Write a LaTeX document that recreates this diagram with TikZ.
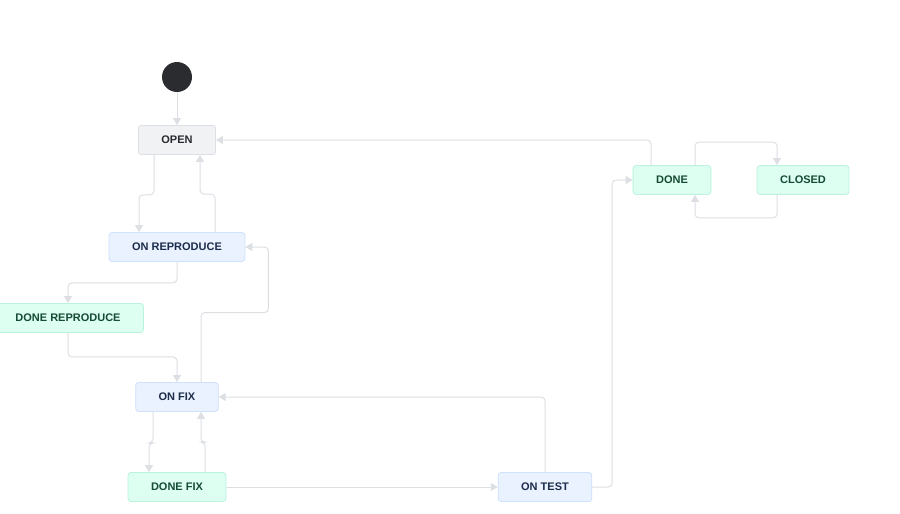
\documentclass[tikz,border=0pt]{standalone}
\usepackage{fontspec}
\setmainfont{Liberation Sans}
\usetikzlibrary{arrows.meta}
\definecolor{lnGray}{HTML}{DCDFE4}
\definecolor{todoFill}{HTML}{F1F2F4}
\definecolor{todoLine}{HTML}{DCDFE4}
\definecolor{todoText}{HTML}{292A2E}
\definecolor{progFill}{HTML}{E9F2FE}
\definecolor{progLine}{HTML}{CFE1FD}
\definecolor{progText}{HTML}{1C2B4A}
\definecolor{doneFill}{HTML}{DCFFF1}
\definecolor{doneLine}{HTML}{BAF3DB}
\definecolor{doneText}{HTML}{164B35}
\definecolor{startFill}{HTML}{2B2C30}
\begin{document}
\begin{tikzpicture}[
  x=1pt, y=-1pt,
  font=\fontsize{11}{13}\selectfont\bfseries,
  box/.style={draw, rounded corners=3pt, inner xsep=23pt, minimum height=29pt, line width=0.8pt},
  todobox/.style={box, fill=todoFill, draw=todoLine, text=todoText},
  progbox/.style={box, fill=progFill, draw=progLine, text=progText},
  donebox/.style={box, fill=doneFill, draw=doneLine, text=doneText},
  arr/.style={draw=lnGray, line width=1pt, rounded corners=4pt, -{Triangle[length=7pt,width=8pt,fill=lnGray]}}
]
\useasboundingbox[fill=white] (0,0) rectangle (900,514);
\node[circle, fill=startFill, minimum size=30pt, inner sep=0pt] (start) at (177,77) {};
\node[todobox] (open) at (177,140) {OPEN};
\node[progbox] (rep) at (177,247) {ON REPRODUCE};
\node[donebox] (drep) at (68,318) {DONE REPRODUCE};
\node[progbox] (fix) at (177,397) {ON FIX};
\node[donebox] (dfix) at (177,487) {DONE FIX};
\node[progbox] (test) at (545,487) {ON TEST};
\node[donebox] (done) at (672,180) {DONE};
\node[donebox] (closed) at (803,180) {CLOSED};
% transitions
\draw[arr] (start) -- (open);
\draw[arr] ([xshift=-23pt]open.south) -- ++(0,40) -| ([xshift=-38pt]rep.north);
\draw[arr] ([xshift=38pt]rep.north) -- ++(0,-38) -| ([xshift=23pt]open.south);
\draw[arr] (rep.south) -- ++(0,21) -| (drep.north);
\draw[arr] (drep.south) -- ++(0,24) -| (fix.north);
\draw[arr] ([xshift=24pt]fix.north) -- ++(0,-69.5) -| ([xshift=23pt]rep.east) -- (rep.east);
\draw[arr] ([xshift=-24pt]fix.south) -- ++(0,31) -| ([xshift=-28pt]dfix.north);
\draw[arr] ([xshift=28pt]dfix.north) -- ++(0,-30) -| ([xshift=24pt]fix.south);
\draw[arr] (dfix) -- (test);
\draw[arr] (test.north) |- (fix.east);
\draw[arr] (test.east) -- ++(20,0) |- (done.west);
\draw[arr] ([xshift=-21pt]done.north) |- (open.east);
\draw[arr] ([xshift=23pt]done.north) -- ++(0,-23) -| ([xshift=-26pt]closed.north);
\draw[arr] ([xshift=-26pt]closed.south) -- ++(0,23) -| ([xshift=23pt]done.south);
\end{tikzpicture}
\end{document}
